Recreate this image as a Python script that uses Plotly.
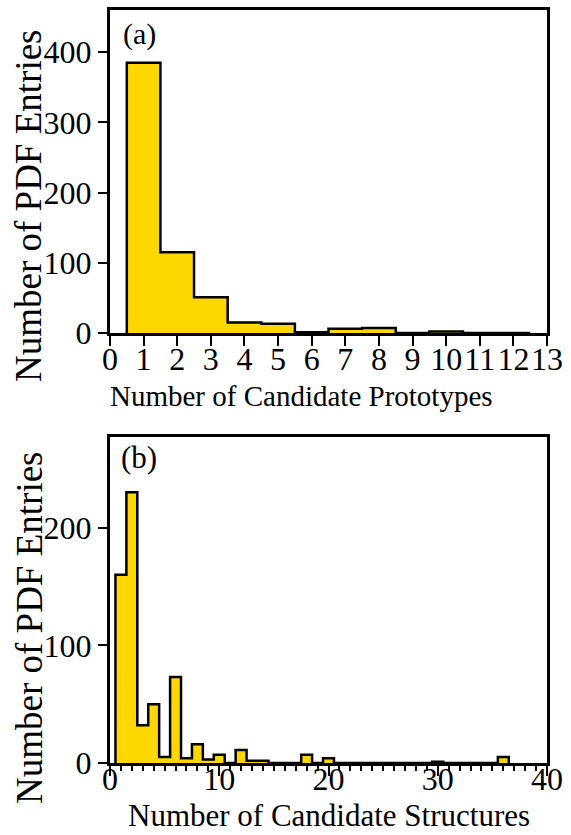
import plotly.graph_objects as go

# ---- data ----
proto_bins = list(range(1, 13))
proto_counts = [385, 115, 51, 15, 13, 1, 6, 7, 0, 2, 0, 0]

struct_bins = list(range(1, 37))
struct_counts = [160, 230, 32, 50, 5, 73, 4, 16, 3, 7, 0, 11, 2, 2, 0, 0, 0, 7,
                 0, 4, 0, 0, 0, 0, 0, 0, 0, 0, 0, 1, 0, 0, 0, 0, 0, 5]

x_title_a = "Number of Candidate Prototypes"
x_title_b = "Number of Candidate Structures"
y_title = "Number of PDF Entries"

W, H = 571, 835
FONT = "Liberation Serif"
GOLD = "#FFD700"


def step_xy(centers, values):
    xs = [centers[0] - 0.5]
    ys = [0]
    for c, v in zip(centers, values):
        xs.append(c - 0.5)
        ys.append(v)
    xs.append(centers[-1] + 0.5)
    ys.append(0)
    return xs, ys


fig = go.Figure()
xa, ya = step_xy(proto_bins, proto_counts)
fig.add_trace(go.Scatter(x=xa, y=ya, mode="lines", line=dict(shape="hv", color="black", width=2.5),
                         fill="tozeroy", fillcolor=GOLD, xaxis="x", yaxis="y", showlegend=False))
xb, yb = step_xy(struct_bins, struct_counts)
fig.add_trace(go.Scatter(x=xb, y=yb, mode="lines", line=dict(shape="hv", color="black", width=2.5),
                         fill="tozeroy", fillcolor=GOLD, xaxis="x2", yaxis="y2", showlegend=False))


def px_x(p):
    return p / W


def px_y(p):
    return 1 - p / H


axis_common = dict(showgrid=False, zeroline=False, showline=True, mirror=True, linecolor="black",
                   linewidth=3, ticks="outside", tickcolor="black", tickwidth=2, automargin=False,
                   tickangle=0, tickfont=dict(family=FONT, size=32, color="black"))

fig.update_layout(
    width=W, height=H, margin=dict(l=0, r=0, t=0, b=0, autoexpand=False),
    paper_bgcolor="white", plot_bgcolor="white",
    xaxis=dict(domain=[px_x(110), px_x(547)], range=[0, 13], dtick=1, tick0=0, ticklen=10,
               ticklabelstandoff=-14, anchor="y", **axis_common),
    yaxis=dict(domain=[px_y(333), px_y(10)], range=[0, 460], dtick=100, ticklen=9,
               anchor="x", **axis_common),
    xaxis2=dict(domain=[px_x(110), px_x(547)], range=[0, 40], dtick=10, tick0=0, ticklen=10,
                ticklabelstandoff=-24,
                minor=dict(dtick=1, ticklen=5, tickwidth=2, ticks="outside", tickcolor="black"),
                anchor="y2", **axis_common),
    yaxis2=dict(domain=[px_y(763), px_y(437)], range=[0, 277], dtick=100, ticklen=9,
                anchor="x2", **axis_common),
)

ann = []
ann.append(dict(text=y_title, x=px_x(29), y=px_y(206), xref="paper", yref="paper", textangle=-90,
                showarrow=False, xanchor="center", yanchor="middle",
                font=dict(family=FONT, size=37, color="black")))
ann.append(dict(text=y_title, x=px_x(29), y=px_y(628), xref="paper", yref="paper", textangle=-90,
                showarrow=False, xanchor="center", yanchor="middle",
                font=dict(family=FONT, size=37, color="black")))
ann.append(dict(text=x_title_a, x=px_x(301.5), y=px_y(396), xref="paper", yref="paper",
                showarrow=False, xanchor="center", yanchor="middle",
                font=dict(family=FONT, size=29, color="black")))
ann.append(dict(text=x_title_b, x=px_x(328.5), y=px_y(815), xref="paper", yref="paper",
                showarrow=False, xanchor="center", yanchor="middle",
                font=dict(family=FONT, size=31, color="black")))
ann.append(dict(text="(a)", x=px_x(121), y=px_y(34), xref="paper", yref="paper",
                showarrow=False, xanchor="left", yanchor="middle",
                font=dict(family=FONT, size=30, color="black")))
ann.append(dict(text="(b)", x=px_x(119), y=px_y(458), xref="paper", yref="paper",
                showarrow=False, xanchor="left", yanchor="middle",
                font=dict(family=FONT, size=31, color="black")))
fig.update_layout(annotations=ann)

fig.write_html("out.html")
